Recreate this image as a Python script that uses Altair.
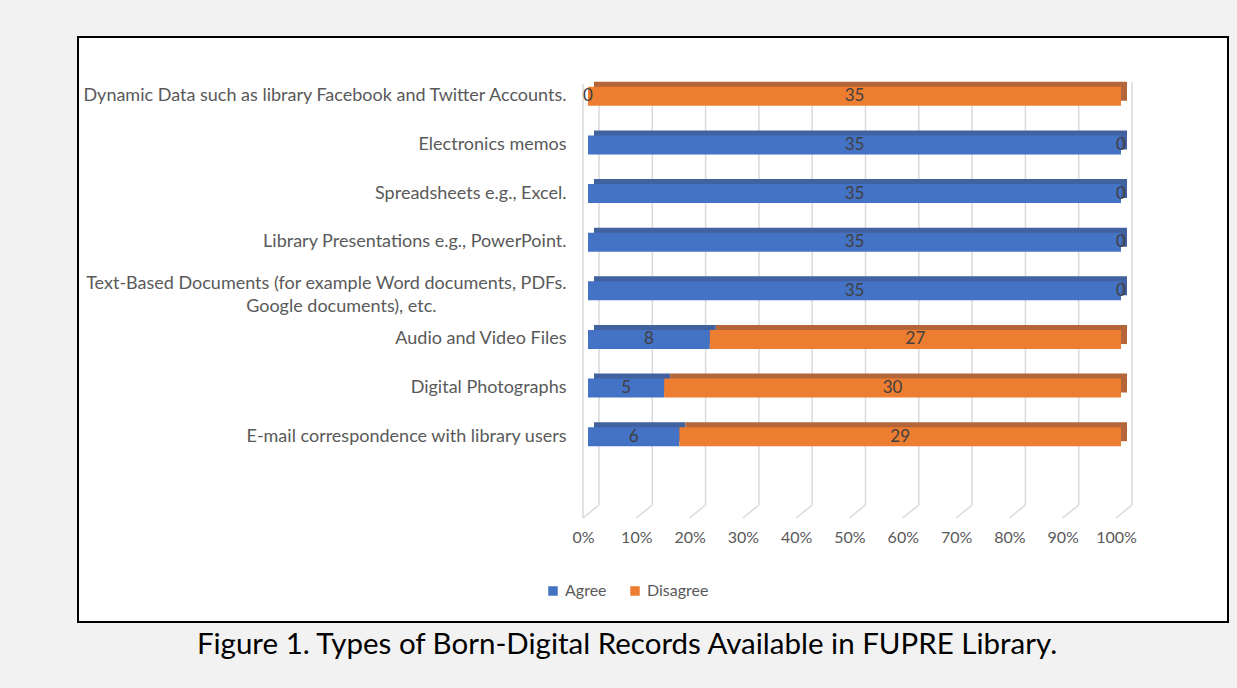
import altair as alt
import pandas as pd

categories = [
    "Dynamic Data such as library Facebook and Twitter Accounts.",
    "Electronics memos",
    "Spreadsheets e.g., Excel.",
    "Library Presentations e.g., PowerPoint.",
    "Text-Based Documents (for example Word documents, PDFs.|Google documents), etc.",
    "Audio and Video Files",
    "Digital Photographs",
    "E-mail correspondence with library users",
]
agree = [0, 35, 35, 35, 35, 8, 5, 6]
disagree = [35, 0, 0, 0, 0, 27, 30, 29]
series = ["Agree", "Disagree"]
front_colors = ["#4472C4", "#ED7D31"]
top_colors = ["#42619F", "#B4663A"]
tick_values = [0.0, 0.1, 0.2, 0.3, 0.4, 0.5, 0.6, 0.7, 0.8, 0.9, 1.0]
caption = "Figure 1. Types of Born-Digital Records Available in FUPRE Library."

FONT = "Lato"
GRID = "#d9d9d9"
TXT = "#595959"
PAGE = "#f2f2f2"
BLANK_PAD = "\u2800" * 10  # blank (non-whitespace) glyphs to centre the wrapped line

rows = []
for c, a, d in zip(categories, agree, disagree):
    rows.append({"category": c, "series": series[0], "order": 0, "value": a, "top": top_colors[0]})
    rows.append({"category": c, "series": series[1], "order": 1, "value": d, "top": top_colors[1]})
df = pd.DataFrame(rows)

ydomain = alt.Scale(domain=categories, paddingInner=0, paddingOuter=0)
xscale = alt.Scale(domain=[0, 1])

X_AXIS = alt.Axis(
    values=tick_values, format=".0%", domain=False, ticks=False, grid=False,
    labelFont=FONT, labelFontSize=16, labelColor=TXT, labelFlush=False, labelOverlap=False,
    labelPadding=68, labelOffset=-5, title=None, zindex=1,
)
Y_AXIS = alt.Axis(
    domain=False, ticks=False, grid=False,
    labelExpr=(
        "indexof(datum.label, '|') >= 0 ? "
        "[split(datum.label, '|')[0], split(datum.label, '|')[1] + '" + BLANK_PAD + "'] : datum.label"
    ),
    labelFont=FONT, labelFontSize=18, labelColor=TXT,
    labelOffset={"condition": {"test": "indexof(datum.value, '|') >= 0", "value": -7}, "value": 0},
    labelPadding=22, labelLimit=700, labelLineHeight=23, title=None, zindex=1,
)

base = alt.Chart(df).transform_stack(
    stack="value",
    groupby=["category"],
    sort=[alt.SortField("order", order="ascending")],
    offset="normalize",
    as_=["v0", "v1"],
).transform_calculate(mid="(datum.v0 + datum.v1) / 2")

one = pd.DataFrame({"k": [0]})
# grey page margins around the white figure box (decoration)
def strip(x0, x1, y0, y1):
    return alt.Chart(one).mark_rect(color=PAGE).encode(
        x=alt.value(x0), x2=alt.value(x1), y=alt.value(y0), y2=alt.value(y1)
    )

margins = [
    strip(-600, 660, -80, -35),
    strip(-600, 660, 550, 630),
    strip(-600, -510, -80, 630),
    strip(640, 660, -80, 630),
]
frame = alt.Chart(one).mark_rect(filled=False, stroke="black", strokeWidth=2).encode(
    x=alt.value(-510), x2=alt.value(640), y=alt.value(-35), y2=alt.value(550)
)

grid_df = pd.DataFrame({"t": tick_values})
grid_back = alt.Chart(grid_df).mark_rule(color=GRID, strokeWidth=1.5, xOffset=11).encode(
    x=alt.X("t:Q", scale=xscale, axis=X_AXIS),
    y=alt.value(10),
    y2=alt.value(433),
)
grid_floor = alt.Chart(grid_df).mark_rule(color=GRID, strokeWidth=1.5, xOffset=11, x2Offset=-5).encode(
    x=alt.X("t:Q", scale=xscale, axis=X_AXIS),
    x2="t:Q",
    y=alt.value(433),
    y2=alt.value(446),
)
left_wall = alt.Chart(one).mark_rule(color=GRID, strokeWidth=1.5).encode(
    x=alt.value(-5), y=alt.value(12), y2=alt.value(446)
)

bars_top = base.mark_bar(size=19, xOffset=6, x2Offset=6, yOffset=-5).encode(
    y=alt.Y("category:N", scale=ydomain, axis=Y_AXIS),
    x=alt.X("v0:Q", scale=xscale, axis=X_AXIS),
    x2="v1:Q",
    color=alt.Color("top:N", scale=None),
)

bars = base.mark_bar(size=19).encode(
    y=alt.Y("category:N", scale=ydomain, axis=Y_AXIS),
    x=alt.X("v0:Q", scale=xscale, axis=X_AXIS),
    x2="v1:Q",
    color=alt.Color(
        "series:N",
        scale=alt.Scale(domain=series, range=front_colors),
        legend=alt.Legend(
            title=None, orient="none", legendX=-43, legendY=511, direction="horizontal",
            symbolType="square", symbolSize=90, symbolStrokeWidth=0,
            labelFont=FONT, labelFontSize=16, labelColor=TXT, columnPadding=20, padding=0,
        ),
    ),
)

labels = base.mark_text(font=FONT, fontSize=17, color="#404040").encode(
    y=alt.Y("category:N", scale=ydomain, axis=Y_AXIS),
    x=alt.X("mid:Q", scale=xscale, axis=X_AXIS),
    text="value:Q",
)

cap = alt.Chart(pd.DataFrame({"t": [caption]})).mark_text(
    font=FONT, fontSize=29.5, color="black", align="center", baseline="middle"
).encode(x=alt.value(39), y=alt.value(573), text="t:N")

chart = alt.layer(*margins, frame, grid_back, grid_floor, left_wall, bars_top, bars, labels, cap).properties(
    width=533,
    height=389,
    background="white",
    autosize=alt.AutoSizeParams(type="none"),
    padding={"left": 588, "top": 72, "right": 116, "bottom": 227},
).configure_view(stroke=None)

chart.save("out.html", embed_options={"renderer": "svg", "actions": False})
